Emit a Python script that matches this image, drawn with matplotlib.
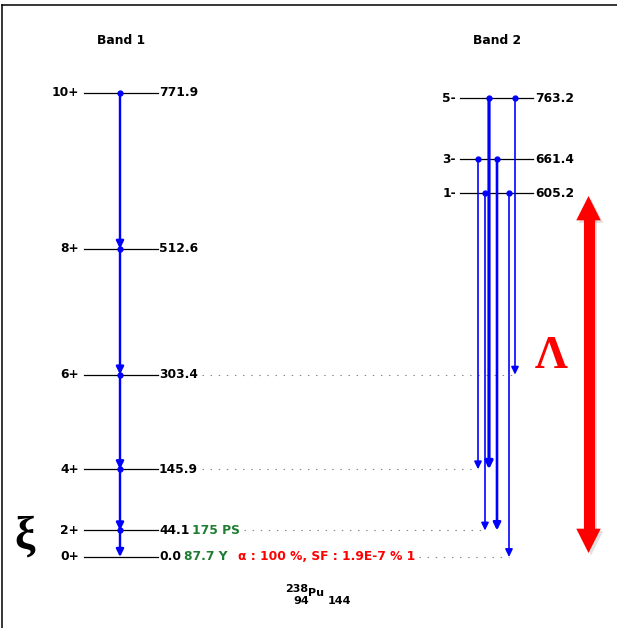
import matplotlib
matplotlib.use('Agg')
import matplotlib.pyplot as plt
from matplotlib.lines import Line2D

# ---------------- data ----------------
band1_spins = ['0+', '2+', '4+', '6+', '8+', '10+']
band1_energies = [0.0, 44.1, 145.9, 303.4, 512.6, 771.9]
band2_spins = ['1-', '3-', '5-']
band2_energies = [605.2, 661.4, 763.2]

# in-band transitions of band 1 (from spin -> to spin)
band1_gamma_from = ['10+', '8+', '6+', '4+', '2+']
band1_gamma_to = ['8+', '6+', '4+', '2+', '0+']
band1_gamma_intensity = [60, 60, 60, 60, 60]

# band 2 -> band 1 transitions
band2_gamma_from = ['3-', '1-', '5-', '3-', '1-', '5-']
band2_gamma_to = ['4+', '2+', '4+', '2+', '0+', '6+']
band2_gamma_intensity = [20, 20, 100, 70, 20, 20]

half_life_labels = {'2+': '175 PS', '0+': '87.7 Y'}
decay_label = 'α : 100 %, SF : 1.9E-7 % 1'
nuclide = ('238', '94', 'Pu', '144')
band_titles = ['Band 1', 'Band 2']

# ---------------- layout ----------------
W, H = 617, 628
px_per_kev = (557 - 93) / 771.9
e_top = 557 / px_per_kev
e_bot = (557 - H) / px_per_kev

fig = plt.figure(figsize=(W / 100, H / 100), dpi=100)
ax = fig.add_axes([0, 0, 1, 1])
ax.set_xlim(0, W)
ax.set_ylim(e_bot, e_top)
ax.axis('off')
ov = fig.add_axes([0, 0, 1, 1])
ov.set_xlim(0, W)
ov.set_ylim(H, 0)
ov.axis('off')
ov.patch.set_visible(False)

FS = 8.8
FONT = dict(family='DejaVu Sans', fontweight='bold', fontsize=FS)
BLUE = '#0000ff'
GREEN = '#1e7d32'
RED = '#ff0000'

renderer = fig.canvas.get_renderer()

def text_right_px(t):
    bb = t.get_window_extent(renderer=renderer)
    return bb.x1  # pixels == x data units (figure 100 dpi, xlim 0..W)

E1 = dict(zip(band1_spins, band1_energies))
E2 = dict(zip(band2_spins, band2_energies))

# band 1 levels
b1_x0, b1_x1, b1_arrow = 84, 158, 120
label_end = {}
for s, e in zip(band1_spins, band1_energies):
    ax.plot([b1_x0, b1_x1], [e, e], color='black', lw=0.9, zorder=2)
    ax.text(b1_x0 - 5, e, s, ha='right', va='center', **FONT)
    t = ax.text(b1_x1 + 1, e, f'{e:.1f}', ha='left', va='center', **FONT)
    label_end[s] = text_right_px(t)

# half-lives and decay
for s, lab in half_life_labels.items():
    t = ax.text(label_end[s] + 3, E1[s], lab, ha='left', va='center',
                color=GREEN, **FONT)
    label_end[s] = text_right_px(t)
t = ax.text(label_end['0+'] + 10, E1['0+'], decay_label, ha='left', va='center',
            color=RED, **FONT)
label_end['0+'] = text_right_px(t)

# band 2 levels
b2_x0, b2_x1 = 460, 533
for s, e in zip(band2_spins, band2_energies):
    ax.plot([b2_x0, b2_x1], [e, e], color='black', lw=0.9, zorder=2)
    ax.text(b2_x0 - 4, e, s, ha='right', va='center', **FONT)
    ax.text(b2_x1 + 2, e, f'{e:.1f}', ha='left', va='center', **FONT)

def lw_of(intensity):
    return 0.9 + 1.4 * intensity / 100.0

def gamma(x, e_from, e_to, lw):
    ax.annotate('', xy=(x, e_to), xytext=(x, e_from),
                arrowprops=dict(arrowstyle='-|>,head_length=0.45,head_width=0.22',
                                color=BLUE, lw=lw, shrinkA=0, shrinkB=0,
                                mutation_scale=10), zorder=4)
    ax.plot([x], [e_from], 'o', color=BLUE, ms=3.5, zorder=5)

for f, t_, i in zip(band1_gamma_from, band1_gamma_to, band1_gamma_intensity):
    gamma(b1_arrow, E1[f], E1[t_], lw_of(i))

b2_x = [478, 485, 489, 497, 509, 515]
dot_end = {}
for x, f, t_, i in zip(b2_x, band2_gamma_from, band2_gamma_to, band2_gamma_intensity):
    gamma(x, E2[f], E1[t_], lw_of(i))
    dot_end[t_] = min(dot_end.get(t_, 1e9), x)

for s, xe in dot_end.items():
    ax.plot([label_end[s] + 4, xe], [E1[s], E1[s]], color='#888888', lw=0.8,
            linestyle=(0, (1.3, 6.0)), zorder=1)

# ---------------- decorations (pixel coordinates) ----------------
ov.text(121, 41, band_titles[0], ha='center', va='center', **FONT)
ov.text(497, 41, band_titles[1], ha='center', va='center', **FONT)

NFONT = dict(FONT, fontsize=8)
ov.text(297, 588.5, nuclide[0], ha='center', va='center', **NFONT)
ov.text(301, 601, nuclide[1], ha='center', va='center', **NFONT)
ov.text(316, 593, nuclide[2], ha='center', va='center', **NFONT)
ov.text(339, 601.5, nuclide[3], ha='center', va='center', **NFONT)

ov.text(25, 538, 'ξ', ha='center', va='center', fontsize=33,
        family='Liberation Serif', fontweight='bold', color='black')
ov.text(551, 357, 'Λ', ha='center', va='center', fontsize=33,
        family='Liberation Serif', fontweight='bold', color=RED)

# red double arrow
ax_x = 588.5
y_top, y_bot = 196, 553
for dx, col, a in [(2.5, '#000000', 0.12), (0, RED, 1.0)]:
    ov.plot([ax_x + dx, ax_x + dx], [y_top + 20 + dx, y_bot - 20 + dx], color=col,
            lw=8, solid_capstyle='butt', alpha=a, zorder=5)
    for ya, yb in [((y_top + y_bot) / 2, y_top), ((y_top + y_bot) / 2, y_bot)]:
        ov.annotate('', xy=(ax_x + dx, yb + dx), xytext=(ax_x + dx, ya + dx),
                    arrowprops=dict(arrowstyle='-|>,head_length=1.75,head_width=0.88',
                                    color=col, lw=0, shrinkA=0, shrinkB=0,
                                    mutation_scale=10, alpha=a), zorder=5)

# frame (top and left)
fig.add_artist(Line2D([1.5 / W, 1.0], [1 - 4.5 / H, 1 - 4.5 / H], color='black', lw=1.1))
fig.add_artist(Line2D([1.5 / W, 1.5 / W], [0, 1 - 4.5 / H], color='black', lw=1.1))

fig.savefig('out.png', dpi=100)
